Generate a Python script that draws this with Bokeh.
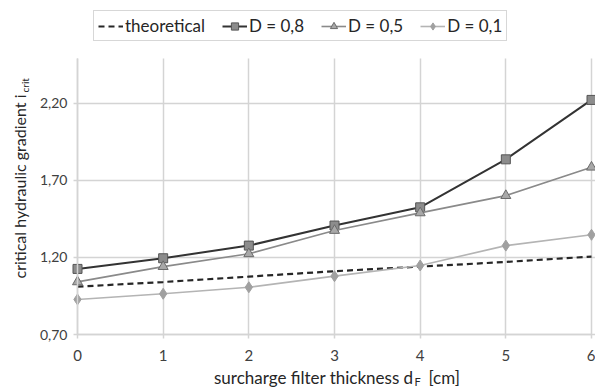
import math
from bokeh.plotting import figure
from bokeh.models import Legend, LegendItem, FixedTicker, Label, Range1d
from bokeh.embed import file_html
from bokeh.resources import INLINE

# data
thickness = [0, 1, 2, 3, 4, 5, 6]
theoretical = [1.01, 1.04, 1.075, 1.11, 1.14, 1.17, 1.205]
d08 = [1.125, 1.194, 1.276, 1.406, 1.524, 1.835, 2.22]
d05 = [1.041, 1.14, 1.223, 1.374, 1.488, 1.60, 1.784]
d01 = [0.927, 0.964, 1.006, 1.078, 1.147, 1.276, 1.346]
y_ticks = [0.7, 1.2, 1.7, 2.2]
y_tick_labels = ["0,70", "1,20", "1,70", "2,20"]
legend_labels = ["theoretical", "D = 0,8", "D = 0,5", "D = 0,1"]

FONT = "Lato"
W, H = 595, 388
X0_PX, X6_PX = 77, 591          # pixel positions of x=0 and x=6
Y07_PX, Y22_PX = 334, 102.5     # pixel positions of y=0.70 and y=2.20
sx = (X6_PX - X0_PX) / 6.0
sy = (Y07_PX - Y22_PX) / 1.5
x_start = 0 - X0_PX / sx
x_end = 0 + (W - X0_PX) / sx
y_start = 0.70 - (H - Y07_PX) / sy
y_end = 0.70 + Y07_PX / sy
y_top = 0.70 + (Y07_PX - 58) / sy  # top of plotting area

p = figure(width=W, height=H, output_backend="svg", toolbar_location=None,
           x_range=Range1d(x_start, x_end), y_range=Range1d(y_start, y_end),
           min_border=0)
p.outline_line_color = None
p.background_fill_color = "white"

grid_col = "#d4d4d4"
p.xgrid.grid_line_color = grid_col
p.ygrid.grid_line_color = grid_col
p.xgrid.grid_line_width = 1.5
p.ygrid.grid_line_width = 1.5
p.xgrid.cross_bounds = (0.70, y_top)
p.ygrid.cross_bounds = (0, 6.05)
p.xaxis.ticker = FixedTicker(ticks=thickness)
p.yaxis.ticker = FixedTicker(ticks=y_ticks)
p.xgrid.ticker = FixedTicker(ticks=thickness)
p.ygrid.ticker = FixedTicker(ticks=y_ticks)
p.yaxis.major_label_overrides = {t: l for t, l in zip(y_ticks, y_tick_labels)}
p.xaxis.fixed_location = 0.70
p.yaxis.fixed_location = 0
p.xaxis.bounds = (0, 6)
p.yaxis.bounds = (0.70, y_top)
for ax in (p.xaxis[0], p.yaxis[0]):
    ax.axis_line_color = grid_col
    ax.axis_line_width = 1.5
    ax.major_tick_line_color = grid_col
    ax.major_tick_line_width = 1.5
    ax.major_tick_out = 4
    ax.major_tick_in = 0
    ax.minor_tick_out = 0
    ax.minor_tick_in = 0
    ax.major_label_text_font = FONT
    ax.major_label_text_font_size = "14px"
    ax.major_label_text_color = "#404040"
p.xaxis.major_label_text_font_size = "15px"
p.xaxis.major_label_standoff = 11
p.yaxis.major_label_standoff = 6

r_th = p.line(thickness, theoretical, line_color="#262626", line_width=2.2, line_dash="6 4")
r8l = p.line(thickness, d08, line_color="#333333", line_width=2)
r8m = p.scatter(thickness, d08, marker="square", size=9, fill_color="#8c8c8c", line_color="#555555", line_width=1)
r5l = p.line(thickness, d05, line_color="#8a8a8a", line_width=1.6)
r5m = p.scatter(thickness, d05, marker="triangle", size=10, fill_color="#a8a8a8", line_color="#6a6a6a", line_width=1)
r1l = p.line(thickness, d01, line_color="#b4b4b4", line_width=1.6)
r1m = p.scatter(thickness, d01, marker="diamond", size=11, fill_color="#a0a0a0", line_color="#a0a0a0", line_width=1)

legend = Legend(items=[
    LegendItem(label=legend_labels[0], renderers=[r_th]),
    LegendItem(label=legend_labels[1], renderers=[r8l, r8m]),
    LegendItem(label=legend_labels[2], renderers=[r5l, r5m]),
    LegendItem(label=legend_labels[3], renderers=[r1l, r1m]),
], orientation="horizontal", location=(93, H - 41))
legend.label_text_font = FONT
legend.label_text_font_size = "17px"
legend.label_text_color = "#262626"
legend.glyph_width = 25
legend.glyph_height = 18
legend.label_standoff = 2
legend.spacing = 17
legend.padding = 4
legend.margin = 0
legend.border_line_color = "#b0b0b0"
legend.border_line_width = 1.5
legend.background_fill_alpha = 1
p.add_layout(legend, "center")

txt = dict(x_units="screen", y_units="screen", text_font=FONT, text_color="#262626")
# x label: "surcharge filter thickness d_F [cm]"
p.add_layout(Label(x=413, y=H - 377, text="surcharge filter thickness d", text_align="right",
                   text_baseline="middle", text_font_size="17px", **txt))
p.add_layout(Label(x=414, y=H - 381, text="F", text_align="left",
                   text_baseline="middle", text_font_size="11px", **txt))
p.add_layout(Label(x=428, y=H - 377, text="[cm]", text_align="left",
                   text_baseline="middle", text_font_size="17px", **txt))
# y label: "critical hydraulic gradient i_crit"
p.add_layout(Label(x=19, y=H - 94, text="critical hydraulic gradient i", text_align="right",
                   text_baseline="middle", angle=math.pi / 2, text_font_size="16px", **txt))
p.add_layout(Label(x=24, y=H - 92, text="crit", text_align="left",
                   text_baseline="middle", angle=math.pi / 2, text_font_size="10px", **txt))

open("out.html", "w").write(file_html(p, INLINE))
